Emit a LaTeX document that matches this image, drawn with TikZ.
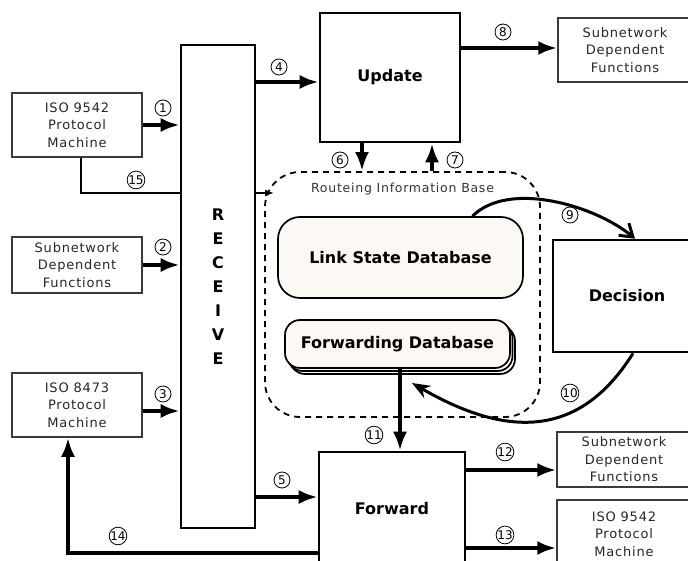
\documentclass[tikz,border=0pt]{standalone}
\usepackage{fontspec}
\setmainfont{DejaVu Sans}
\newfontfamily\boxfont[LetterSpace=6]{DejaVu Sans}
\usetikzlibrary{positioning,arrows.meta,shadows}
\definecolor{dbfill}{HTML}{FCF8F3}
\definecolor{boxgray}{HTML}{3A3A3A}

\begin{document}
\begin{tikzpicture}[x=1pt, y=-1pt,
    bigbox/.style={draw, line width=2.6pt, inner sep=0pt, font=\fontsize{16}{18}\selectfont\bfseries},
    smallbox/.style={draw=boxgray, line width=1.5pt, inner sep=0pt, align=center,
                     font=\boxfont\fontsize{13}{17.5}\selectfont, text=black!85},
    dbase/.style={draw, line width=1.7pt, fill=dbfill, inner sep=0pt, font=\fontsize{16}{18}\selectfont\bfseries},
    num/.style={circle, draw, line width=0.8pt, inner sep=0pt, minimum size=16pt,
                font=\fontsize{12}{12}\selectfont},
    flow/.style={line width=3.8pt, -{Latex[length=19pt,width=14pt]}},
    feed/.style={line width=1.6pt, -{Latex[length=9pt,width=7pt]}}]

\useasboundingbox (0,0) rectangle (688,561);

% main blocks
\node[bigbox, minimum width=74pt, minimum height=483pt, align=center,
      font=\fontsize{16}{24}\selectfont\bfseries] (recv) at (218,286.5) {R\\E\\C\\E\\I\\V\\E};
\node[bigbox, minimum width=140pt, minimum height=129pt] (upd) at (390,77.5) {Update};
\node[bigbox, minimum width=146pt, minimum height=114pt] (fwd) at (392,509) {Forward};
\node[bigbox, minimum width=148pt, minimum height=112pt] (dec) at (627,296) {Decision};

% outside functions
\node[smallbox, minimum width=130pt, minimum height=64pt] (isoA) at (77,125) {ISO 9542\\Protocol\\Machine};
\node[smallbox, minimum width=130pt, minimum height=56pt] (sdfA) at (77,265) {Subnetwork\\Dependent\\Functions};
\node[smallbox, minimum width=130pt, minimum height=64pt] (isoB) at (77,405) {ISO 8473\\Protocol\\Machine};
\node[smallbox, minimum width=134pt, minimum height=64pt] (sdfB) at (625,50) {Subnetwork\\Dependent\\Functions};
\node[smallbox, minimum width=134pt, minimum height=55pt] (sdfC) at (624,459.5) {Subnetwork\\Dependent\\Functions};
\node[smallbox, minimum width=134pt, minimum height=68pt] (isoC) at (624,534) {ISO 9542\\Protocol\\Machine};

% routeing information base
\node[draw, line width=1.8pt, dash pattern=on 6pt off 5pt, rounded corners=35pt,
      minimum width=275pt, minimum height=245pt] (rib) at (402.5,294.5) {};
\node[font=\boxfont\fontsize{12.5}{12.5}\selectfont, text=black!80, below=8pt of rib.north] (ribtxt) {Routeing Information Base};
\node[dbase, rounded corners=22pt, minimum width=245pt, minimum height=81pt] (lsdb) at (400.5,257.5) {Link State Database};
\node[dbase, rounded corners=15pt, minimum width=225pt, minimum height=48pt,
      double copy shadow={shadow xshift=2.5pt, shadow yshift=-3pt, draw=black, fill=dbfill, line width=1.7pt}]
      (fdb) at (397.5,344) {Forwarding Database};

\coordinate (ribin) at (274,193);
\coordinate (fdbin) at (412,383);

% connectors
\draw[flow] (isoA.east) -- (isoA.east -| recv.west);
\draw[flow] (sdfA.east) -- (sdfA.east -| recv.west);
\draw[flow] (isoB.east |- 0,411) -- (recv.west |- 0,411);
\draw[line width=1.8pt] ([xshift=4pt]isoA.south) |- (recv.west |- 0,193);
\draw[flow] (recv.east |- 0,82) -- (upd.west |- 0,82);
\draw[flow] (recv.east |- 0,497) -- (fwd.west |- 0,497);
\draw[feed] (recv.east |- 0,193) -- (ribin);
\draw[flow] (upd.south -| 362,0) -- (rib.north -| 362,0);
\draw[flow] (rib.north -| 432,0) -- (upd.south -| 432,0);
\draw[flow] (upd.east |- 0,48) -- (sdfB.west |- 0,48);
\draw[line width=3pt, -{Straight Barb[length=12pt,width=16pt]}]
    ([xshift=72pt]lsdb.north) to[out=45,in=140,looseness=0.8] ([xshift=8pt]dec.north);
\draw[line width=3pt, -{Stealth[length=18pt,width=14pt]}]
    ([xshift=6pt]dec.south) to[out=-122,in=-30,looseness=1.2] (fdbin);
\draw[flow] (fdb.south -| 400,0) -- (fwd.north -| 400,0);
\draw[flow] (fwd.east |- 0,470) -- (sdfC.west |- 0,470);
\draw[flow] (fwd.east |- 0,548) -- (isoC.west |- 0,548);
\draw[flow] (fwd.west |- 0,553) -| (isoB.south -| 68,0);

% flow numbers
\node[num] (n1) at (163,108) {1};
\node[num] (n2) at (163,247) {2};
\node[num] (n3) at (163,394) {3};
\node[num] (n4) at (279,67) {4};
\node[num] (n5) at (282,480) {5};
\node[num] (n6) at (340,160) {6};
\node[num] (n7) at (455,160) {7};
\node[num] (n8) at (503,32) {8};
\node[num] (n9) at (570,215) {9};
\node[num] (n10) at (570,393) {10};
\node[num] (n11) at (374,435) {11};
\node[num] (n12) at (505,452) {12};
\node[num] (n13) at (505,535) {13};
\node[num] (n14) at (118,536) {14};
\node[num] (n15) at (136,180) {15};
\end{tikzpicture}
\end{document}
